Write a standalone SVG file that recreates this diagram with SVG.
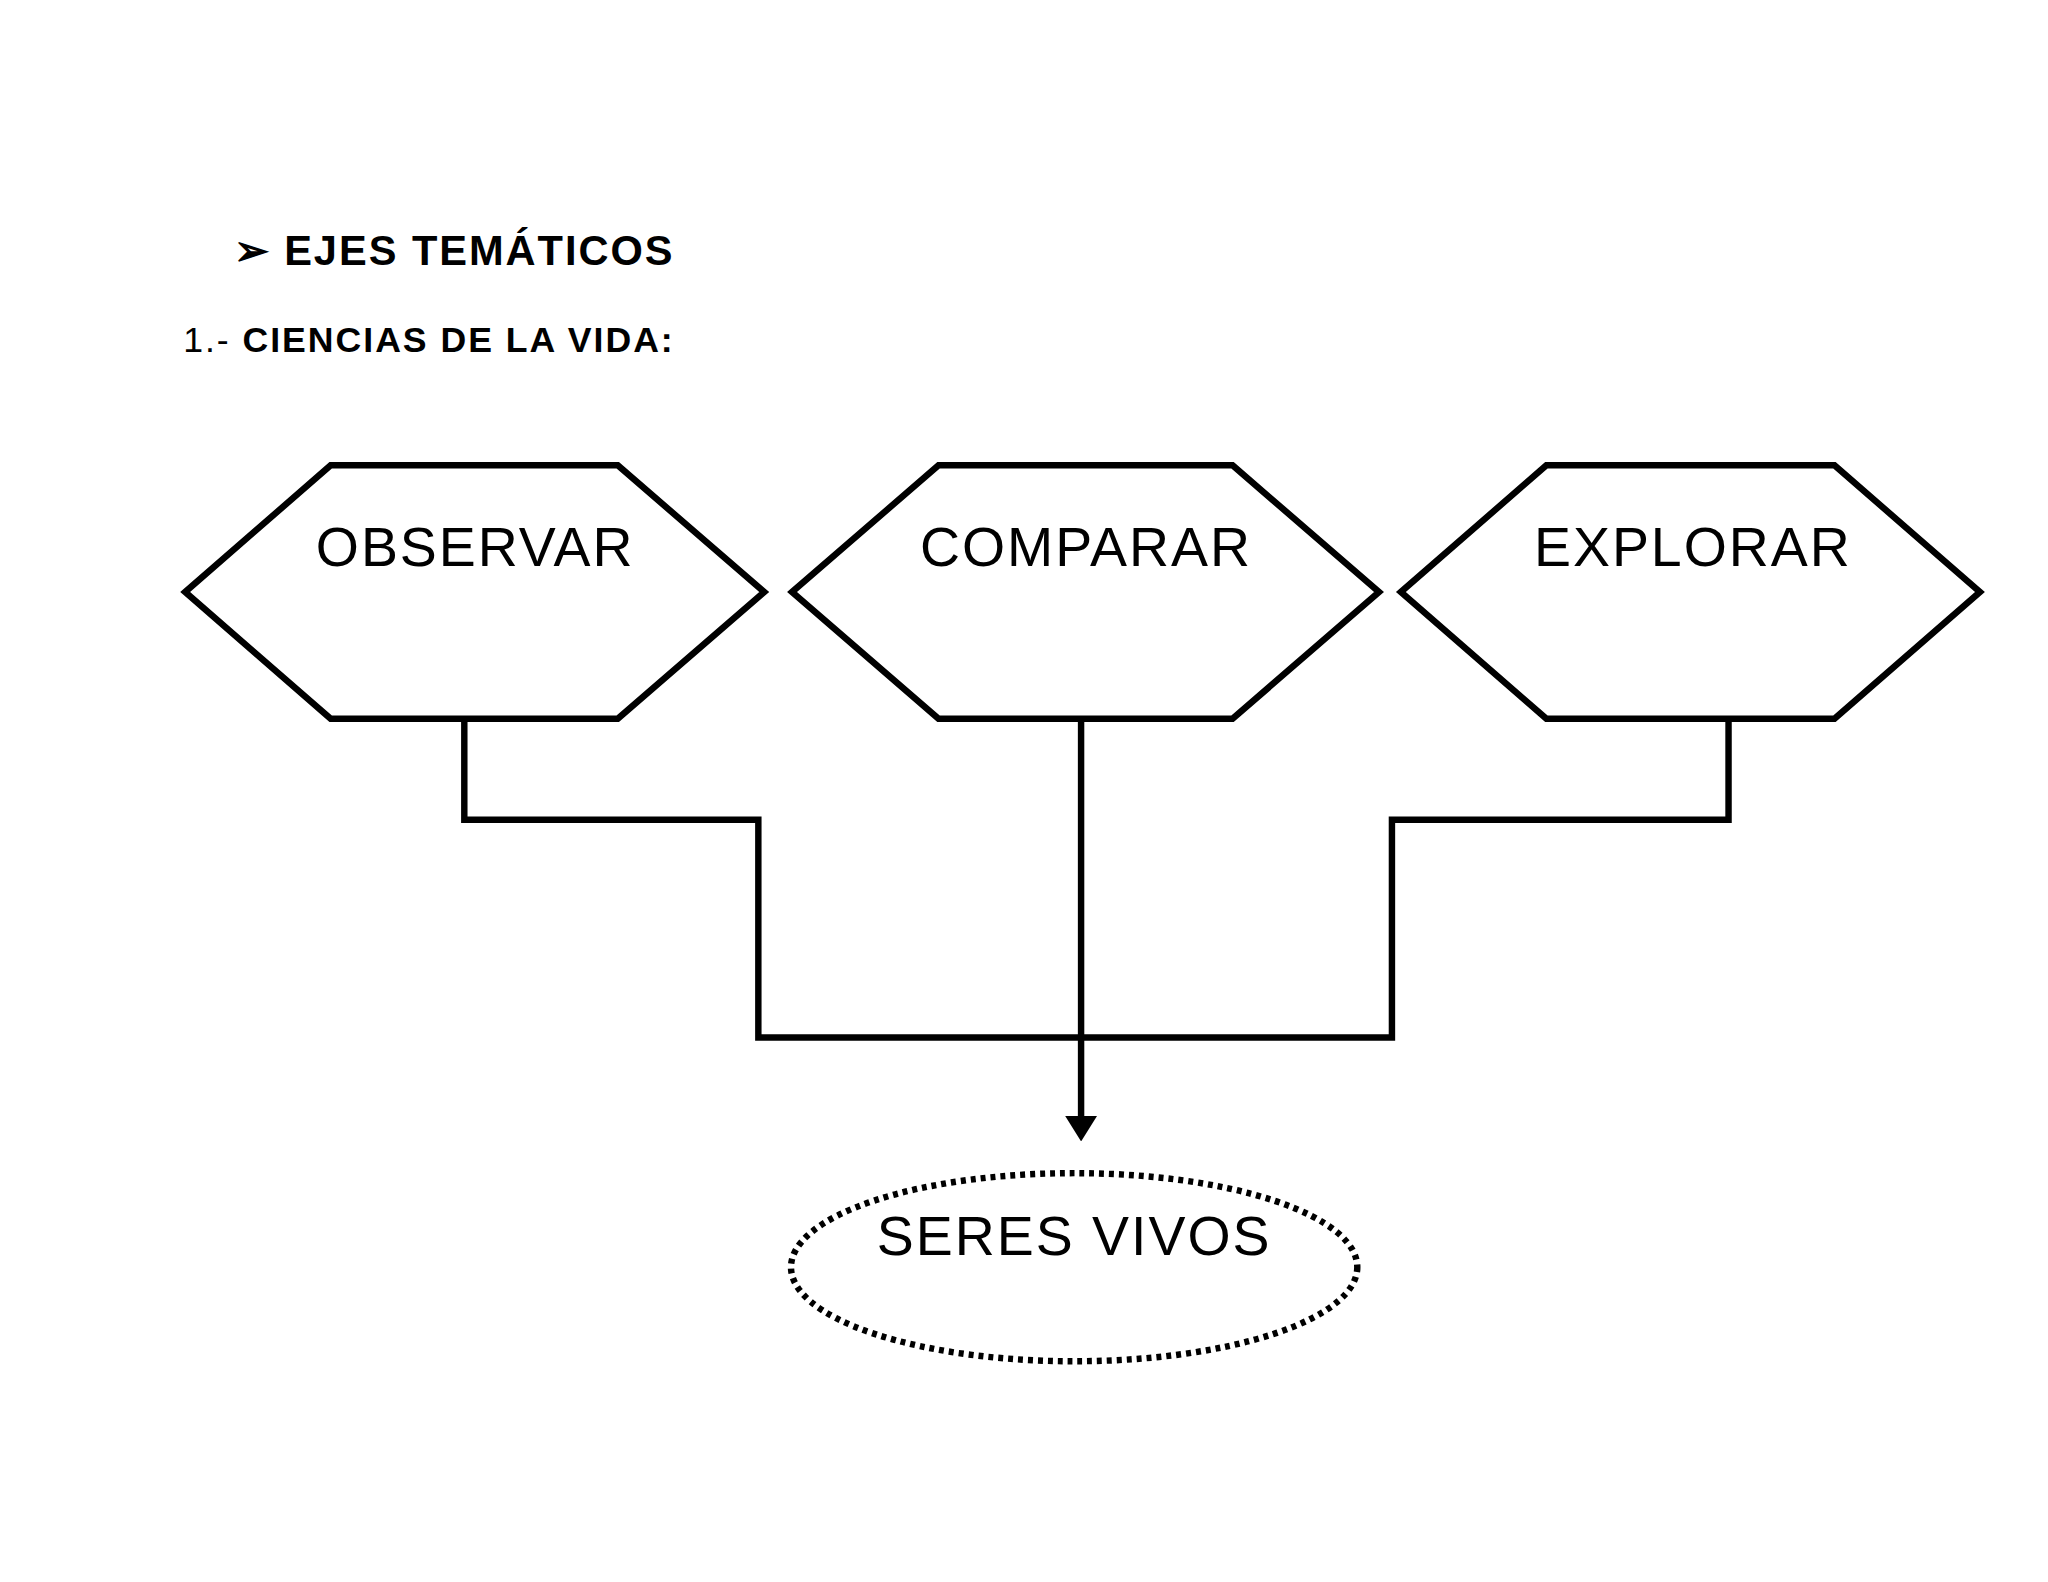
<svg xmlns="http://www.w3.org/2000/svg" width="2048" height="1582" viewBox="0 0 2048 1582">
<style>
.hex{fill:#fff;stroke:#000;stroke-width:6.5;stroke-linejoin:miter}
.lbl{font-family:"Liberation Sans",Arial,sans-serif;font-size:56px;letter-spacing:2px;text-anchor:middle;fill:#000}
.hd{font-family:"Liberation Sans",Arial,sans-serif;font-weight:bold;fill:#000;letter-spacing:2px}
.con{fill:none;stroke:#000;stroke-width:6.5}
</style>
<defs><marker id="ah" markerWidth="4" markerHeight="5" refX="2" refY="2.5" orient="auto" markerUnits="strokeWidth"><path d="M0,0 L4,2.5 L0,5 z" fill="#000"/></marker></defs>
<rect width="2048" height="1582" fill="#fff"/>
<g transform="scale(0.99)">
<g id="header">
<text class="hd" x="236" y="268" font-size="42">➢ EJES TEMÁTICOS</text>
<text class="hd" x="185" y="356" font-size="36"><tspan font-weight="normal">1.-</tspan> CIENCIAS DE LA VIDA:</text>
</g>
<g id="connectors">
<polyline class="con" points="469,726 469,828 766,828 766,1048 1406,1048 1406,828 1746,828 1746,726"/>
<line class="con" x1="1092" y1="726" x2="1092" y2="1140" marker-end="url(#ah)"/>
</g>
<g id="observar"><polygon class="hex" points="187,598 334,470 624,470 772,598 624,726 334,726"/><text class="lbl" x="480" y="572">OBSERVAR</text></g>
<g id="comparar"><polygon class="hex" points="800,598 948,470 1245,470 1393,598 1245,726 948,726"/><text class="lbl" x="1097" y="572">COMPARAR</text></g>
<g id="explorar"><polygon class="hex" points="1415,598 1562,470 1853,470 2000,598 1853,726 1562,726"/><text class="lbl" x="1710" y="572">EXPLORAR</text></g>
<g id="seres"><ellipse cx="1085" cy="1280" rx="286" ry="95" fill="#fff" stroke="#000" stroke-width="6.5" stroke-dasharray="5,5"/><text class="lbl" x="1085" y="1268">SERES VIVOS</text></g>
</g>
</svg>
